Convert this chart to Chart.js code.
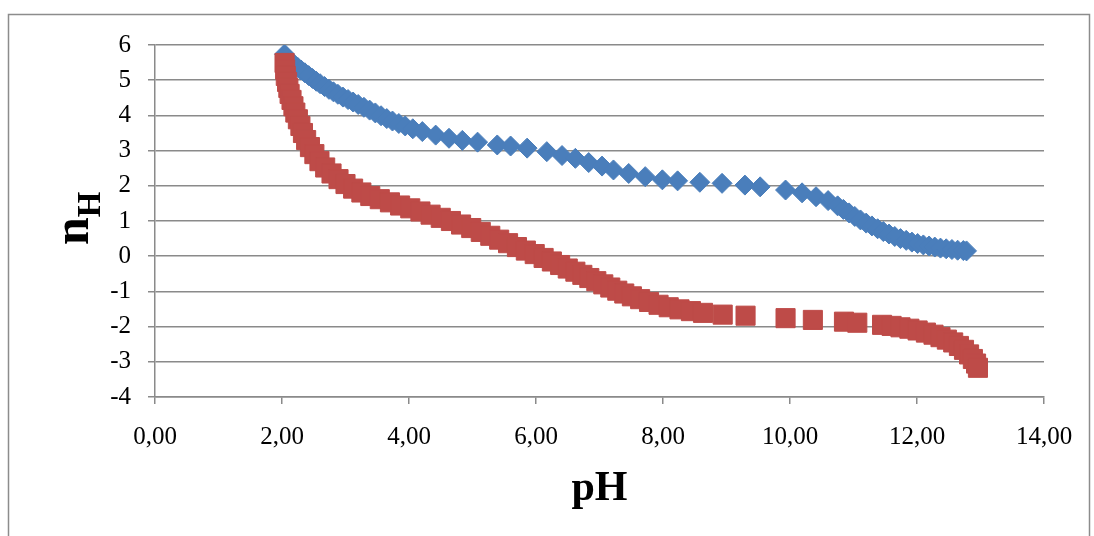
<!DOCTYPE html>
<html>
<head>
<meta charset="utf-8">
<script src="https://cdn.jsdelivr.net/npm/chart.js"></script>
<style>
  html, body { margin: 0; padding: 0; background: #fff; }
  #wrap { position: relative; width: 1094px; height: 536px; }
</style>
</head>
<body>
<div id="wrap"><canvas id="chart" width="1094" height="536"></canvas></div>
<script>
// Blue series (diamonds)
var bluePH = [2.04, 2.08, 2.12, 2.16, 2.20, 2.25, 2.30, 2.36, 2.42, 2.48, 2.54, 2.60, 2.67, 2.74, 2.81, 2.88, 2.96, 3.04, 3.12, 3.20,
  3.29, 3.38, 3.47, 3.56, 3.65, 3.74, 3.84, 3.94, 4.06, 4.21, 4.42, 4.63, 4.84, 5.08, 5.39, 5.60, 5.86, 6.17, 6.41, 6.62,
  6.83, 7.04, 7.22, 7.46, 7.72, 7.99, 8.23, 8.58, 8.93, 9.29, 9.53, 9.93, 10.19, 10.41, 10.60, 10.75, 10.84, 10.93, 11.02, 11.11,
  11.20, 11.29, 11.38, 11.47, 11.56, 11.65, 11.74, 11.83, 11.92, 12.01, 12.10, 12.19, 12.28, 12.37, 12.46, 12.55, 12.64, 12.73, 12.78];
var blueNH = [5.74, 5.64, 5.56, 5.49, 5.43, 5.36, 5.29, 5.21, 5.13, 5.05, 4.97, 4.90, 4.82, 4.74, 4.67, 4.60, 4.52, 4.45, 4.38, 4.31,
  4.23, 4.15, 4.07, 3.99, 3.91, 3.84, 3.77, 3.70, 3.62, 3.54, 3.44, 3.35, 3.29, 3.24, 3.16, 3.13, 3.07, 2.97, 2.86, 2.78,
  2.66, 2.56, 2.45, 2.35, 2.26, 2.17, 2.14, 2.10, 2.07, 2.02, 1.97, 1.88, 1.80, 1.69, 1.58, 1.43, 1.33, 1.23, 1.13, 1.03,
  0.94, 0.86, 0.78, 0.70, 0.63, 0.56, 0.50, 0.45, 0.40, 0.36, 0.32, 0.29, 0.26, 0.23, 0.21, 0.19, 0.17, 0.16, 0.15];

// Red series (squares)
var redPH = [2.04, 2.05, 2.06, 2.08, 2.10, 2.12, 2.15, 2.18, 2.21, 2.25, 2.29, 2.33, 2.38, 2.44, 2.51, 2.59, 2.68, 2.78, 2.89, 3.00,
  3.12, 3.25, 3.39, 3.54, 3.70, 3.86, 4.02, 4.18, 4.34, 4.50, 4.66, 4.82, 4.98, 5.13, 5.28, 5.42, 5.56, 5.70, 5.84, 5.98,
  6.12, 6.25, 6.38, 6.50, 6.62, 6.73, 6.84, 6.95, 7.06, 7.17, 7.28, 7.39, 7.51, 7.64, 7.78, 7.93, 8.09, 8.26, 8.44, 8.63,
  8.94, 9.30, 9.93, 10.36, 10.85, 11.06, 11.45, 11.60, 11.74, 11.88, 12.01, 12.14, 12.26, 12.37, 12.47, 12.57, 12.66, 12.74, 12.82, 12.88,
  12.93, 12.96];
var redNH = [5.49, 5.30, 5.12, 4.95, 4.78, 4.61, 4.44, 4.26, 4.08, 3.89, 3.70, 3.50, 3.30, 3.10, 2.90, 2.70, 2.52, 2.35, 2.19, 2.05,
  1.92, 1.81, 1.71, 1.62, 1.53, 1.44, 1.36, 1.27, 1.18, 1.09, 1.00, 0.90, 0.80, 0.69, 0.58, 0.47, 0.37, 0.26, 0.16, 0.06,
  -0.05, -0.15, -0.25, -0.35, -0.44, -0.53, -0.62, -0.71, -0.80, -0.89, -0.98, -1.06, -1.14, -1.22, -1.30, -1.38, -1.45, -1.51, -1.56, -1.61,
  -1.66, -1.69, -1.76, -1.81, -1.86, -1.89, -1.95, -1.98, -2.02, -2.06, -2.11, -2.17, -2.23, -2.30, -2.37, -2.45, -2.55, -2.66, -2.79, -2.92,
  -3.05, -3.17];

// axis ranges
var xMin = 0, xMax = 14, xStep = 2;
var yMin = -4, yMax = 6, yStep = 1;

function toPoints(xs, ys) {
  return xs.map(function (x, i) { return { x: x, y: ys[i] }; });
}

var serif = "'Liberation Serif', 'Times New Roman', serif";
var gridGray = '#8a8a8a';

// y axis title with subscript, plus the outer frame
var extras = {
  id: 'extras',
  beforeDraw: function (chart) {
    var ctx = chart.ctx;
    ctx.save();
    ctx.strokeStyle = '#8c8c8c';
    ctx.lineWidth = 1.5;
    ctx.strokeRect(8.5, 14.5, 1081, 600);
    ctx.restore();
  },
  afterDraw: function (chart) {
    var ctx = chart.ctx;
    var area = chart.chartArea;
    ctx.save();
    ctx.fillStyle = '#000';
    ctx.translate(88, (area.top + area.bottom) / 2 + 24);
    ctx.rotate(-Math.PI / 2);
    ctx.textBaseline = 'alphabetic';
    ctx.textAlign = 'left';
    ctx.font = 'bold 50px ' + serif;
    ctx.fillText('n', 0, 0);
    var w = ctx.measureText('n').width;
    ctx.font = 'bold 33px ' + serif;
    ctx.fillText('H', w, 12);
    ctx.restore();
  }
};

new Chart(document.getElementById('chart'), {
  type: 'scatter',
  data: {
    datasets: [
      {
        label: 'blue',
        data: toPoints(bluePH, blueNH),
        pointStyle: 'rectRot',
        pointRadius: 10,
        pointHoverRadius: 10,
        backgroundColor: '#4a7ebb',
        borderColor: '#4a7ebb',
        borderWidth: 1,
        order: 2
      },
      {
        label: 'red',
        data: toPoints(redPH, redNH),
        pointStyle: 'rect',
        pointRadius: 13.5,
        pointHoverRadius: 13.5,
        backgroundColor: '#be4b48',
        borderColor: '#be4b48',
        borderWidth: 1,
        order: 1
      }
    ]
  },
  options: {
    responsive: false,
    animation: false,
    devicePixelRatio: 1,
    layout: { padding: { left: 0, right: 50, top: 45, bottom: 0 } },
    plugins: {
      legend: { display: false },
      tooltip: { enabled: false }
    },
    scales: {
      x: {
        type: 'linear',
        min: xMin,
        max: xMax,
        afterFit: function (scale) { scale.height = 139; },
        ticks: {
          stepSize: xStep,
          padding: 18,
          color: '#000',
          font: { family: serif, size: 25 },
          maxRotation: 0,
          callback: function (v) { return v.toFixed(2).replace('.', ','); }
        },
        grid: {
          drawOnChartArea: false,
          drawTicks: true,
          tickLength: 7,
          color: gridGray,
          lineWidth: 1.5
        },
        border: { display: true, color: gridGray, width: 1.5 },
        title: {
          display: true,
          text: 'pH',
          color: '#000',
          font: { family: serif, size: 42, weight: 'bold' },
          padding: { top: 0, bottom: 22 }
        }
      },
      y: {
        type: 'linear',
        min: yMin,
        max: yMax,
        afterFit: function (scale) { scale.width = 155; },
        ticks: {
          stepSize: yStep,
          padding: 17,
          color: '#000',
          font: { family: serif, size: 25 }
        },
        grid: {
          drawOnChartArea: true,
          drawTicks: true,
          tickLength: 7,
          color: gridGray,
          lineWidth: 1.5
        },
        border: { display: true, color: gridGray, width: 1.5 }
      }
    }
  },
  plugins: [extras]
});
</script>
</body>
</html>
